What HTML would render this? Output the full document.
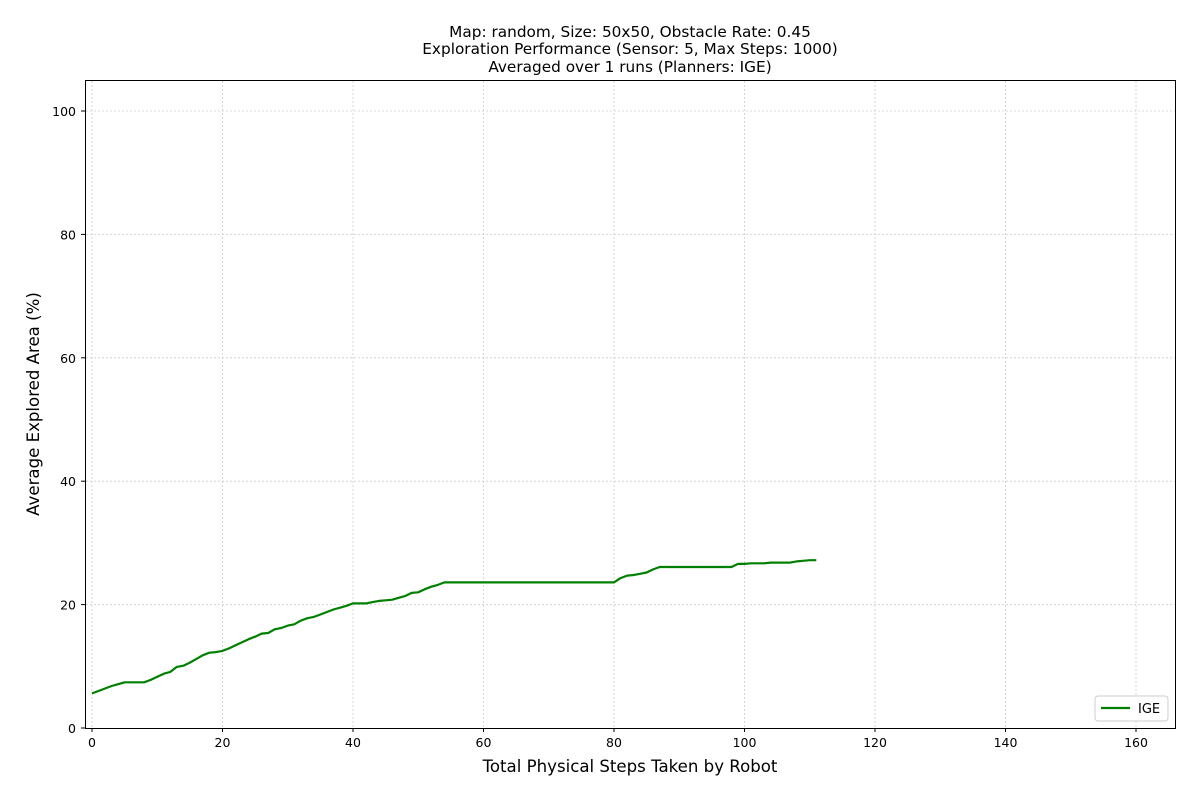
<!DOCTYPE html>
<html><head><meta charset="utf-8"><style>
body{margin:0;background:#fff;width:1200px;height:800px;overflow:hidden;font-family:"DejaVu Sans","Liberation Sans",sans-serif}
</style></head><body>
<svg id="chart" width="1200" height="800" xmlns="http://www.w3.org/2000/svg" font-family="DejaVu Sans, Liberation Sans, sans-serif">
<g font-size="15.3" text-anchor="middle" fill="#000">
<text x="630" y="37">Map: random, Size: 50x50, Obstacle Rate: 0.45</text>
<text x="630" y="54">Exploration Performance (Sensor: 5, Max Steps: 1000)</text>
<text x="630" y="72">Averaged over 1 runs (Planners: IGE)</text>
</g>
<g id="grid"></g>
<g id="xticks"></g>
<g id="yticks"></g>
<path id="line" fill="none" stroke="#008000" stroke-width="2.2" stroke-linejoin="round"/>
<rect x="85.5" y="80.5" width="1090" height="648" fill="none" stroke="#000" stroke-width="1"/>
<text x="630" y="772" font-size="16.6" text-anchor="middle">Total Physical Steps Taken by Robot</text>
<text transform="translate(39,404) rotate(-90)" font-size="16.6" text-anchor="middle">Average Explored Area (%)</text>
<g>
<rect x="1095" y="696" width="73" height="25" rx="3" fill="#fff" stroke="#ccc"/>
<line x1="1101" y1="708" x2="1130" y2="708" stroke="#008000" stroke-width="2.2"/>
<text x="1138" y="713" font-size="13">IGE</text>
</g>
</svg>
<script>
const seriesIGE=[5.6,6.0,6.4,6.8,7.1,7.4,7.4,7.4,7.4,7.8,8.3,8.8,9.1,9.9,10.1,10.6,11.2,11.8,12.2,12.3,12.5,12.9,13.4,13.9,14.4,14.8,15.3,15.4,16.0,16.2,16.6,16.8,17.4,17.8,18.0,18.4,18.8,19.2,19.5,19.8,20.2,20.2,20.2,20.4,20.6,20.7,20.8,21.1,21.4,21.9,22.0,22.5,22.9,23.2,23.6,23.6,23.6,23.6,23.6,23.6,23.6,23.6,23.6,23.6,23.6,23.6,23.6,23.6,23.6,23.6,23.6,23.6,23.6,23.6,23.6,23.6,23.6,23.6,23.6,23.6,23.6,24.3,24.7,24.8,25.0,25.2,25.7,26.1,26.1,26.1,26.1,26.1,26.1,26.1,26.1,26.1,26.1,26.1,26.1,26.6,26.6,26.7,26.7,26.7,26.8,26.8,26.8,26.8,27.0,27.1,27.2,27.2];
const xTicks=[0,20,40,60,80,100,120,140,160];
const yTicks=[0,20,40,60,80,100];
const NS="http://www.w3.org/2000/svg";
const X0=92,XS=1044/160,Y0=728,YS=617/100;
function xs(v){return X0+v*XS}
function ys(v){return Y0-v*YS}
const grid=document.getElementById('grid'),xg=document.getElementById('xticks'),yg=document.getElementById('yticks');
function mk(t,a,p){const e=document.createElementNS(NS,t);for(const k in a)e.setAttribute(k,a[k]);p.appendChild(e);return e}
xTicks.forEach(t=>{const x=xs(t);
const g=mk('line',{x1:x,x2:x,y1:81,y2:728,stroke:'#ccc','stroke-dasharray':'2,2','stroke-width':0.8},grid);


mk('line',{x1:x,x2:x,y1:728,y2:732,stroke:'#000'},xg);
const l=mk('text',{x:x,y:747,'font-size':12.5,'text-anchor':'middle'},xg);l.textContent=t;

});
yTicks.forEach(t=>{const y=ys(t);
if(t>0){const g=mk('line',{x1:86,x2:1175,y1:y,y2:y,stroke:'#ccc','stroke-dasharray':'2,2','stroke-width':0.8},grid);

}
mk('line',{x1:81,x2:85,y1:y,y2:y,stroke:'#000'},yg);
const l=mk('text',{x:76,y:y+5,'font-size':12.5,'text-anchor':'end'},yg);l.textContent=t;

});
document.getElementById('line').setAttribute('d',seriesIGE.map((v,i)=>(i?'L':'M')+xs(i).toFixed(1)+','+ys(v).toFixed(1)).join(''));
</script>
</body></html>
